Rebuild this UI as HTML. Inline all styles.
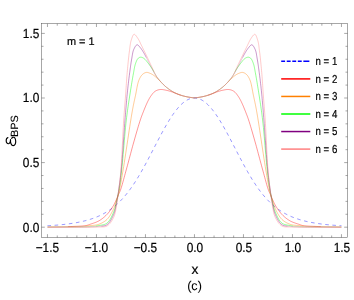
<!DOCTYPE html>
<html><head><meta charset="utf-8"><title>chart</title>
<style>
html,body{margin:0;padding:0;background:#fff;}
svg{will-change:transform;}
svg text{text-rendering:geometricPrecision;}
body{width:354px;height:300px;overflow:hidden;position:relative;font-family:"Liberation Sans",sans-serif;}
</style></head><body>
<svg width="354" height="300" viewBox="0 0 354 300" style="position:absolute;left:0;top:0">
<rect width="354" height="300" fill="#ffffff"/>
<path d="M47.46,225.76 L48.44,225.71 L49.42,225.65 L50.40,225.58 L51.38,225.52 L52.36,225.45 L53.34,225.38 L54.32,225.31 L55.30,225.24 L56.28,225.16 L57.26,225.08 L58.24,224.99 L59.22,224.91 L60.20,224.81 L61.18,224.72 L62.16,224.62 L63.14,224.52 L64.12,224.41 L65.10,224.30 L66.08,224.19 L67.06,224.07 L68.04,223.94 L69.02,223.81 L70.00,223.68 L70.98,223.54 L71.96,223.39 L72.94,223.24 L73.92,223.08 L74.90,222.92 L75.88,222.75 L76.86,222.57 L77.84,222.39 L78.82,222.19 L79.80,221.99 L80.78,221.79 L81.76,221.57 L82.74,221.35 L83.72,221.11 L84.70,220.87 L85.68,220.62 L86.66,220.35 L87.64,220.08 L88.62,219.80 L89.60,219.50 L90.58,219.19 L91.56,218.87 L92.54,218.54 L93.52,218.19 L94.50,217.83 L95.48,217.46 L96.46,217.07 L97.44,216.66 L98.42,216.24 L99.40,215.80 L100.38,215.34 L101.36,214.86 L102.34,214.37 L103.32,213.85 L104.30,213.32 L105.28,212.76 L106.26,212.18 L107.24,211.58 L108.22,210.96 L109.20,210.31 L110.18,209.63 L111.16,208.93 L112.14,208.21 L113.12,207.45 L114.10,206.67 L115.08,205.86 L116.06,205.02 L117.04,204.14 L118.02,203.24 L119.00,202.31 L119.98,201.34 L120.96,200.34 L121.94,199.30 L122.92,198.24 L123.90,197.13 L124.88,195.99 L125.86,194.82 L126.84,193.61 L127.82,192.37 L128.80,191.08 L129.78,189.77 L130.76,188.41 L131.74,187.03 L132.72,185.60 L133.70,184.15 L134.68,182.65 L135.66,181.13 L136.64,179.57 L137.62,177.98 L138.60,176.36 L139.58,174.71 L140.56,173.03 L141.54,171.32 L142.52,169.59 L143.50,167.83 L144.48,166.05 L145.46,164.25 L146.44,162.43 L147.42,160.60 L148.40,158.75 L149.38,156.88 L150.36,155.01 L151.34,153.13 L152.32,151.24 L153.30,149.34 L154.28,147.45 L155.26,145.56 L156.24,143.67 L157.22,141.79 L158.20,139.91 L159.18,138.05 L160.16,136.20 L161.14,134.37 L162.12,132.56 L163.10,130.76 L164.08,129.00 L165.06,127.26 L166.04,125.55 L167.02,123.87 L168.00,122.22 L168.98,120.61 L169.96,119.04 L170.94,117.52 L171.92,116.03 L172.90,114.59 L173.88,113.20 L174.86,111.86 L175.84,110.57 L176.82,109.34 L177.80,108.16 L178.78,107.04 L179.76,105.97 L180.74,104.97 L181.72,104.03 L182.70,103.16 L183.68,102.34 L184.66,101.60 L185.64,100.92 L186.62,100.31 L187.60,99.78 L188.58,99.31 L189.56,98.91 L190.54,98.58 L191.52,98.33 L192.50,98.15 L193.48,98.04 L194.46,98.00 L195.44,98.04 L196.42,98.15 L197.40,98.33 L198.38,98.58 L199.36,98.91 L200.34,99.31 L201.32,99.78 L202.30,100.31 L203.28,100.92 L204.26,101.60 L205.24,102.34 L206.22,103.16 L207.20,104.03 L208.18,104.97 L209.16,105.97 L210.14,107.04 L211.12,108.16 L212.10,109.34 L213.08,110.57 L214.06,111.86 L215.04,113.20 L216.02,114.59 L217.00,116.03 L217.98,117.52 L218.96,119.04 L219.94,120.61 L220.92,122.22 L221.90,123.87 L222.88,125.55 L223.86,127.26 L224.84,129.00 L225.82,130.76 L226.80,132.56 L227.78,134.37 L228.76,136.20 L229.74,138.05 L230.72,139.91 L231.70,141.79 L232.68,143.67 L233.66,145.56 L234.64,147.45 L235.62,149.34 L236.60,151.24 L237.58,153.13 L238.56,155.01 L239.54,156.88 L240.52,158.75 L241.50,160.60 L242.48,162.43 L243.46,164.25 L244.44,166.05 L245.42,167.83 L246.40,169.59 L247.38,171.32 L248.36,173.03 L249.34,174.71 L250.32,176.36 L251.30,177.98 L252.28,179.57 L253.26,181.13 L254.24,182.65 L255.22,184.15 L256.20,185.60 L257.18,187.03 L258.16,188.41 L259.14,189.77 L260.12,191.08 L261.10,192.37 L262.08,193.61 L263.06,194.82 L264.04,195.99 L265.02,197.13 L266.00,198.24 L266.98,199.30 L267.96,200.34 L268.94,201.34 L269.92,202.31 L270.90,203.24 L271.88,204.14 L272.86,205.02 L273.84,205.86 L274.82,206.67 L275.80,207.45 L276.78,208.21 L277.76,208.93 L278.74,209.63 L279.72,210.31 L280.70,210.96 L281.68,211.58 L282.66,212.18 L283.64,212.76 L284.62,213.32 L285.60,213.85 L286.58,214.37 L287.56,214.86 L288.54,215.34 L289.52,215.80 L290.50,216.24 L291.48,216.66 L292.46,217.07 L293.44,217.46 L294.42,217.83 L295.40,218.19 L296.38,218.54 L297.36,218.87 L298.34,219.19 L299.32,219.50 L300.30,219.80 L301.28,220.08 L302.26,220.35 L303.24,220.62 L304.22,220.87 L305.20,221.11 L306.18,221.35 L307.16,221.57 L308.14,221.79 L309.12,221.99 L310.10,222.19 L311.08,222.39 L312.06,222.57 L313.04,222.75 L314.02,222.92 L315.00,223.08 L315.98,223.24 L316.96,223.39 L317.94,223.54 L318.92,223.68 L319.90,223.81 L320.88,223.94 L321.86,224.07 L322.84,224.19 L323.82,224.30 L324.80,224.41 L325.78,224.52 L326.76,224.62 L327.74,224.72 L328.72,224.81 L329.70,224.91 L330.68,224.99 L331.66,225.08 L332.64,225.16 L333.62,225.24 L334.60,225.31 L335.58,225.38 L336.56,225.45 L337.54,225.52 L338.52,225.58 L339.50,225.65 L340.48,225.71 L341.46,225.76" fill="none" stroke="#0000ff" stroke-width="0.42" stroke-dasharray="3.58,3.58"/>
<path d="M68.03,226.60 L70.10,226.54 L72.06,226.47 L73.90,226.40 L75.08,226.35 L76.23,226.30 L77.35,226.26 L78.44,226.22 L79.51,226.17 L80.53,226.12 L81.52,226.07 L82.47,226.00 L83.37,225.92 L84.23,225.83 L85.04,225.73 L85.80,225.60 L86.23,225.52 L86.61,225.43 L86.98,225.34 L87.31,225.24 L87.64,225.15 L87.95,225.04 L88.26,224.93 L88.57,224.82 L88.90,224.70 L89.24,224.57 L89.60,224.44 L90.00,224.30 L90.64,224.08 L91.32,223.86 L92.05,223.62 L92.80,223.37 L93.58,223.11 L94.37,222.83 L95.17,222.54 L95.97,222.23 L96.76,221.91 L97.53,221.56 L98.28,221.19 L99.00,220.80 L99.72,220.37 L100.43,219.92 L101.13,219.45 L101.82,218.96 L102.51,218.45 L103.18,217.92 L103.85,217.38 L104.50,216.81 L105.14,216.23 L105.78,215.63 L106.39,215.02 L107.00,214.40 L107.63,213.72 L108.25,213.01 L108.85,212.28 L109.44,211.53 L110.02,210.76 L110.59,209.97 L111.14,209.18 L111.68,208.37 L112.21,207.55 L112.72,206.74 L113.22,205.92 L113.70,205.10 L114.16,204.28 L114.60,203.43 L115.03,202.56 L115.44,201.67 L115.84,200.78 L116.23,199.89 L116.61,199.01 L116.97,198.14 L117.32,197.30 L117.66,196.49 L117.98,195.72 L118.30,195.00 L118.51,194.53 L118.71,194.11 L118.90,193.71 L119.08,193.34 L119.25,192.97 L119.42,192.61 L119.59,192.25 L119.76,191.87 L119.94,191.46 L120.11,191.02 L120.30,190.54 L120.50,190.00 L120.91,188.82 L121.33,187.49 L121.78,186.03 L122.24,184.46 L122.71,182.80 L123.19,181.06 L123.68,179.26 L124.18,177.42 L124.68,175.56 L125.19,173.69 L125.70,171.83 L126.20,170.00 L126.80,167.82 L127.42,165.57 L128.04,163.25 L128.68,160.89 L129.32,158.49 L129.96,156.08 L130.61,153.66 L131.25,151.25 L131.90,148.87 L132.54,146.52 L133.17,144.23 L133.80,142.00 L134.36,140.03 L134.92,138.04 L135.49,136.04 L136.07,134.04 L136.64,132.05 L137.21,130.11 L137.76,128.21 L138.31,126.38 L138.84,124.62 L139.35,122.97 L139.84,121.42 L140.30,120.00 L140.56,119.23 L140.80,118.51 L141.04,117.84 L141.26,117.20 L141.48,116.60 L141.70,116.01 L141.92,115.43 L142.14,114.86 L142.36,114.28 L142.60,113.68 L142.84,113.06 L143.10,112.40 L143.42,111.59 L143.76,110.74 L144.10,109.87 L144.46,108.99 L144.83,108.09 L145.20,107.19 L145.57,106.29 L145.94,105.41 L146.32,104.56 L146.69,103.73 L147.05,102.94 L147.40,102.20 L147.66,101.67 L147.92,101.15 L148.17,100.65 L148.42,100.16 L148.66,99.69 L148.91,99.23 L149.16,98.78 L149.42,98.34 L149.67,97.90 L149.94,97.46 L150.22,97.03 L150.50,96.60 L150.78,96.18 L151.07,95.76 L151.36,95.34 L151.66,94.92 L151.97,94.50 L152.28,94.10 L152.59,93.70 L152.91,93.32 L153.23,92.96 L153.55,92.61 L153.87,92.29 L154.20,92.00 L154.46,91.78 L154.73,91.58 L155.00,91.38 L155.27,91.20 L155.54,91.03 L155.81,90.87 L156.09,90.72 L156.36,90.58 L156.64,90.45 L156.93,90.32 L157.21,90.21 L157.50,90.10 L157.78,90.00 L158.06,89.92 L158.35,89.84 L158.63,89.77 L158.92,89.71 L159.22,89.66 L159.51,89.62 L159.80,89.58 L160.10,89.55 L160.40,89.53 L160.70,89.51 L161.00,89.50 L161.32,89.50 L161.64,89.51 L161.97,89.53 L162.29,89.56 L162.62,89.59 L162.95,89.64 L163.28,89.69 L163.61,89.74 L163.95,89.80 L164.30,89.87 L164.65,89.93 L165.00,90.00 L165.43,90.08 L165.86,90.17 L166.29,90.27 L166.73,90.36 L167.18,90.47 L167.63,90.58 L168.09,90.70 L168.56,90.83 L169.03,90.96 L169.51,91.10 L170.00,91.25 L170.50,91.40 L171.15,91.61 L171.83,91.85 L172.52,92.11 L173.23,92.39 L173.96,92.67 L174.69,92.96 L175.42,93.26 L176.16,93.55 L176.89,93.83 L177.61,94.11 L178.31,94.36 L179.00,94.60 L179.60,94.80 L180.19,94.99 L180.77,95.18 M208.15,95.18 L208.73,94.99 L209.32,94.80 L209.92,94.60 L210.61,94.36 L211.31,94.11 L212.03,93.83 L212.76,93.55 L213.50,93.26 L214.23,92.96 L214.96,92.67 L215.69,92.39 L216.40,92.11 L217.09,91.85 L217.77,91.61 L218.42,91.40 L218.92,91.25 L219.41,91.10 L219.89,90.96 L220.36,90.83 L220.83,90.70 L221.29,90.58 L221.74,90.47 L222.19,90.36 L222.63,90.27 L223.06,90.17 L223.49,90.08 L223.92,90.00 L224.27,89.93 L224.62,89.87 L224.97,89.80 L225.31,89.74 L225.64,89.69 L225.97,89.64 L226.30,89.59 L226.63,89.56 L226.95,89.53 L227.28,89.51 L227.60,89.50 L227.92,89.50 L228.22,89.51 L228.52,89.53 L228.82,89.55 L229.12,89.58 L229.41,89.62 L229.70,89.66 L230.00,89.71 L230.29,89.77 L230.57,89.84 L230.86,89.92 L231.14,90.00 L231.42,90.10 L231.71,90.21 L231.99,90.32 L232.28,90.45 L232.56,90.58 L232.83,90.72 L233.11,90.87 L233.38,91.03 L233.65,91.20 L233.92,91.38 L234.19,91.58 L234.46,91.78 L234.72,92.00 L235.05,92.29 L235.37,92.61 L235.69,92.96 L236.01,93.32 L236.33,93.70 L236.64,94.10 L236.95,94.50 L237.26,94.92 L237.56,95.34 L237.85,95.76 L238.14,96.18 L238.42,96.60 L238.70,97.03 L238.98,97.46 L239.25,97.90 L239.50,98.34 L239.76,98.78 L240.01,99.23 L240.26,99.69 L240.50,100.16 L240.75,100.65 L241.00,101.15 L241.26,101.67 L241.52,102.20 L241.87,102.94 L242.23,103.73 L242.60,104.56 L242.98,105.41 L243.35,106.29 L243.72,107.19 L244.09,108.09 L244.46,108.99 L244.82,109.87 L245.16,110.74 L245.50,111.59 L245.82,112.40 L246.08,113.06 L246.32,113.68 L246.56,114.28 L246.78,114.86 L247.00,115.43 L247.22,116.01 L247.44,116.60 L247.66,117.20 L247.88,117.84 L248.12,118.51 L248.36,119.23 L248.62,120.00 L249.08,121.42 L249.57,122.97 L250.08,124.62 L250.61,126.38 L251.16,128.21 L251.71,130.11 L252.28,132.05 L252.85,134.04 L253.43,136.04 L254.00,138.04 L254.56,140.03 L255.12,142.00 L255.75,144.23 L256.38,146.52 L257.02,148.87 L257.67,151.25 L258.31,153.66 L258.96,156.08 L259.60,158.49 L260.24,160.89 L260.88,163.25 L261.50,165.57 L262.12,167.82 L262.72,170.00 L263.22,171.83 L263.73,173.69 L264.24,175.56 L264.74,177.42 L265.24,179.26 L265.73,181.06 L266.21,182.80 L266.68,184.46 L267.14,186.03 L267.59,187.49 L268.01,188.82 L268.42,190.00 L268.62,190.54 L268.81,191.02 L268.98,191.46 L269.16,191.87 L269.33,192.25 L269.50,192.61 L269.67,192.97 L269.84,193.34 L270.02,193.71 L270.21,194.11 L270.41,194.53 L270.62,195.00 L270.94,195.72 L271.26,196.49 L271.60,197.30 L271.95,198.14 L272.31,199.01 L272.69,199.89 L273.08,200.78 L273.48,201.67 L273.89,202.56 L274.32,203.43 L274.76,204.28 L275.22,205.10 L275.70,205.92 L276.20,206.74 L276.71,207.55 L277.24,208.37 L277.78,209.18 L278.33,209.97 L278.90,210.76 L279.48,211.53 L280.07,212.28 L280.67,213.01 L281.29,213.72 L281.92,214.40 L282.53,215.02 L283.14,215.63 L283.78,216.23 L284.42,216.81 L285.07,217.38 L285.74,217.92 L286.41,218.45 L287.10,218.96 L287.79,219.45 L288.49,219.92 L289.20,220.37 L289.92,220.80 L290.64,221.19 L291.39,221.56 L292.16,221.91 L292.95,222.23 L293.75,222.54 L294.55,222.83 L295.34,223.11 L296.12,223.37 L296.87,223.62 L297.60,223.86 L298.28,224.08 L298.92,224.30 L299.32,224.44 L299.68,224.57 L300.02,224.70 L300.35,224.82 L300.66,224.93 L300.97,225.04 L301.28,225.15 L301.61,225.24 L301.94,225.34 L302.31,225.43 L302.69,225.52 L303.12,225.60 L303.88,225.73 L304.69,225.83 L305.55,225.92 L306.45,226.00 L307.40,226.07 L308.39,226.12 L309.41,226.17 L310.48,226.22 L311.57,226.26 L312.69,226.30 L313.84,226.35 L315.02,226.40 L316.86,226.47 L318.82,226.54 L320.89,226.60" fill="none" stroke="#ff0000" stroke-width="0.42" stroke-linejoin="round"/>
<path d="M47.50,227.00 L49.73,226.95 L52.02,226.91 L54.34,226.87 L56.69,226.83 L59.03,226.79 L61.35,226.74 L63.64,226.70 L65.87,226.65 L68.03,226.60 M180.77,95.18 L181.35,95.36 L181.92,95.53 L182.49,95.70 L183.06,95.86 L183.63,96.02 L184.21,96.17 L184.80,96.32 L185.39,96.46 L186.00,96.60 L186.67,96.74 L187.36,96.87 L188.05,96.99 L188.75,97.10 L189.46,97.21 L190.17,97.31 L190.88,97.40 L191.60,97.50 L192.32,97.60 L193.03,97.69 L193.74,97.79 L194.45,97.90 L195.18,97.79 L195.89,97.69 L196.60,97.60 L197.32,97.50 L198.04,97.40 L198.75,97.31 L199.46,97.21 L200.17,97.10 L200.87,96.99 L201.56,96.87 L202.25,96.74 L202.92,96.60 L203.53,96.46 L204.12,96.32 L204.71,96.17 L205.29,96.02 L205.86,95.86 L206.43,95.70 L207.00,95.53 L207.57,95.36 L208.15,95.18 M320.89,226.60 L323.05,226.65 L325.28,226.70 L327.57,226.74 L329.89,226.79 L332.23,226.83 L334.58,226.87 L336.90,226.91 L339.19,226.95 L341.42,227.00" fill="none" stroke="#ff0000" stroke-width="0.2" stroke-linejoin="round"/>
<path d="M85.41,226.06 L86.18,225.99 L86.94,225.92 L87.69,225.85 L88.45,225.77 L89.21,225.69 L90.00,225.60 L90.74,225.53 L91.46,225.46 L92.19,225.41 L92.91,225.36 L93.62,225.30 L94.33,225.24 L95.03,225.16 L95.73,225.06 L96.43,224.95 L97.12,224.80 L97.81,224.62 L98.50,224.40 L99.24,224.13 L99.98,223.84 L100.73,223.52 L101.47,223.17 L102.21,222.80 L102.94,222.40 L103.66,221.98 L104.37,221.52 L105.06,221.04 L105.73,220.52 L106.38,219.98 L107.00,219.40 L107.68,218.69 L108.33,217.92 L108.97,217.09 L109.58,216.21 L110.17,215.30 L110.74,214.35 L111.29,213.39 L111.81,212.41 L112.32,211.44 L112.80,210.47 L113.26,209.52 L113.70,208.60 L114.08,207.77 L114.43,206.93 L114.75,206.09 L115.06,205.25 L115.35,204.41 L115.62,203.57 L115.88,202.73 L116.13,201.89 L116.38,201.06 L116.62,200.23 L116.86,199.41 L117.10,198.60 L117.32,197.88 L117.53,197.18 L117.73,196.50 L117.92,195.83 L118.11,195.16 L118.29,194.50 L118.47,193.82 L118.65,193.12 L118.84,192.40 L119.02,191.64 L119.21,190.84 L119.40,190.00 L119.70,188.66 L119.99,187.26 L120.28,185.81 L120.58,184.29 L120.88,182.72 L121.18,181.09 L121.48,179.40 L121.79,177.65 L122.10,175.84 L122.43,173.96 L122.76,172.01 L123.10,170.00 L123.68,166.52 L124.30,162.59 L124.97,158.31 L125.66,153.78 L126.37,149.10 L127.08,144.35 L127.79,139.64 L128.48,135.06 L129.13,130.71 L129.75,126.68 L130.31,123.08 L130.80,120.00 L131.02,118.65 L131.23,117.39 L131.42,116.22 L131.60,115.13 L131.78,114.09 L131.95,113.10 L132.11,112.13 L132.28,111.19 L132.45,110.25 L132.62,109.29 L132.81,108.32 L133.00,107.30 L133.19,106.30 L133.39,105.31 L133.59,104.33 L133.79,103.35 L133.99,102.38 L134.20,101.41 L134.41,100.44 L134.62,99.46 L134.83,98.47 L135.05,97.46 L135.27,96.44 L135.50,95.40 L135.75,94.17 L136.00,92.88 L136.25,91.55 L136.50,90.18 L136.75,88.80 L137.01,87.43 L137.28,86.08 L137.56,84.76 L137.86,83.50 L138.18,82.31 L138.53,81.20 L138.90,80.20 L139.16,79.59 L139.42,78.99 L139.69,78.42 L139.97,77.88 L140.25,77.36 L140.54,76.86 L140.84,76.38 L141.15,75.93 L141.47,75.51 L141.80,75.11 L142.14,74.74 L142.50,74.40 L142.80,74.14 L143.11,73.89 L143.43,73.66 L143.77,73.44 L144.10,73.24 L144.45,73.05 L144.79,72.89 L145.14,72.74 L145.49,72.62 L145.83,72.52 L146.17,72.45 L146.50,72.40 L146.80,72.38 L147.09,72.39 L147.38,72.42 L147.68,72.48 L147.97,72.55 L148.26,72.63 L148.56,72.73 L148.85,72.84 L149.14,72.95 L149.42,73.07 L149.71,73.18 L150.00,73.30 L150.30,73.43 L150.60,73.56 L150.90,73.70 L151.20,73.84 L151.49,73.99 L151.79,74.16 L152.09,74.32 L152.38,74.50 L152.68,74.69 L152.98,74.88 L153.29,75.09 L153.60,75.30 L154.00,75.59 L154.40,75.89 L154.80,76.21 L155.21,76.54 L155.62,76.89 L156.03,77.25 L156.45,77.62 L156.87,78.00 L157.30,78.39 L157.73,78.79 L158.16,79.19 L158.60,79.60 L159.13,80.11 L159.67,80.64 L160.21,81.20 L160.75,81.78 M228.17,81.78 L228.71,81.20 L229.25,80.64 L229.79,80.11 L230.32,79.60 L230.76,79.19 L231.19,78.79 L231.62,78.39 L232.05,78.00 L232.47,77.62 L232.89,77.25 L233.30,76.89 L233.71,76.54 L234.12,76.21 L234.52,75.89 L234.92,75.59 L235.32,75.30 L235.63,75.09 L235.94,74.88 L236.24,74.69 L236.54,74.50 L236.83,74.32 L237.13,74.16 L237.43,73.99 L237.72,73.84 L238.02,73.70 L238.32,73.56 L238.62,73.43 L238.92,73.30 L239.21,73.18 L239.50,73.07 L239.78,72.95 L240.07,72.84 L240.36,72.73 L240.66,72.63 L240.95,72.55 L241.24,72.48 L241.54,72.42 L241.83,72.39 L242.12,72.38 L242.42,72.40 L242.75,72.45 L243.09,72.52 L243.43,72.62 L243.78,72.74 L244.13,72.89 L244.47,73.05 L244.82,73.24 L245.15,73.44 L245.49,73.66 L245.81,73.89 L246.12,74.14 L246.42,74.40 L246.78,74.74 L247.12,75.11 L247.45,75.51 L247.77,75.93 L248.08,76.38 L248.38,76.86 L248.67,77.36 L248.95,77.88 L249.23,78.42 L249.50,78.99 L249.76,79.59 L250.02,80.20 L250.39,81.20 L250.74,82.31 L251.06,83.50 L251.36,84.76 L251.64,86.08 L251.91,87.43 L252.17,88.80 L252.42,90.18 L252.67,91.55 L252.92,92.88 L253.17,94.17 L253.42,95.40 L253.65,96.44 L253.87,97.46 L254.09,98.47 L254.30,99.46 L254.51,100.44 L254.72,101.41 L254.93,102.38 L255.13,103.35 L255.33,104.33 L255.53,105.31 L255.73,106.30 L255.92,107.30 L256.11,108.32 L256.30,109.29 L256.47,110.25 L256.64,111.19 L256.81,112.13 L256.97,113.10 L257.14,114.09 L257.32,115.13 L257.50,116.22 L257.69,117.39 L257.90,118.65 L258.12,120.00 L258.61,123.08 L259.17,126.68 L259.79,130.71 L260.44,135.06 L261.13,139.64 L261.84,144.35 L262.55,149.10 L263.26,153.78 L263.95,158.31 L264.62,162.59 L265.24,166.52 L265.82,170.00 L266.16,172.01 L266.49,173.96 L266.82,175.84 L267.13,177.65 L267.44,179.40 L267.74,181.09 L268.04,182.72 L268.34,184.29 L268.64,185.81 L268.93,187.26 L269.22,188.66 L269.52,190.00 L269.71,190.84 L269.90,191.64 L270.08,192.40 L270.27,193.12 L270.45,193.82 L270.63,194.50 L270.81,195.16 L271.00,195.83 L271.19,196.50 L271.39,197.18 L271.60,197.88 L271.82,198.60 L272.06,199.41 L272.30,200.23 L272.54,201.06 L272.79,201.89 L273.04,202.73 L273.30,203.57 L273.57,204.41 L273.86,205.25 L274.17,206.09 L274.49,206.93 L274.84,207.77 L275.22,208.60 L275.66,209.52 L276.12,210.47 L276.60,211.44 L277.11,212.41 L277.63,213.39 L278.18,214.35 L278.75,215.30 L279.34,216.21 L279.95,217.09 L280.59,217.92 L281.24,218.69 L281.92,219.40 L282.54,219.98 L283.19,220.52 L283.86,221.04 L284.55,221.52 L285.26,221.98 L285.98,222.40 L286.71,222.80 L287.45,223.17 L288.19,223.52 L288.94,223.84 L289.68,224.13 L290.42,224.40 L291.11,224.62 L291.80,224.80 L292.49,224.95 L293.19,225.06 L293.89,225.16 L294.59,225.24 L295.30,225.30 L296.01,225.36 L296.73,225.41 L297.46,225.46 L298.18,225.53 L298.92,225.60 L299.71,225.69 L300.47,225.77 L301.23,225.85 L301.98,225.92 L302.74,225.99 L303.51,226.06" fill="none" stroke="#ff8000" stroke-width="0.42" stroke-linejoin="round"/>
<path d="M47.50,226.80 L50.27,226.77 L53.13,226.75 L56.06,226.73 L59.02,226.72 L61.99,226.70 L64.92,226.68 L67.78,226.66 L70.55,226.63 L73.19,226.59 L75.66,226.54 L77.94,226.48 L80.00,226.40 L81.04,226.35 L82.01,226.30 L82.92,226.24 L83.79,226.18 L84.62,226.12 L85.41,226.06 M160.75,81.78 L161.30,82.36 L161.86,82.96 L162.43,83.56 L163.00,84.15 L163.58,84.74 L164.18,85.31 L164.78,85.87 L165.40,86.40 L166.06,86.94 L166.73,87.48 L167.41,88.01 L168.10,88.54 L168.81,89.06 L169.52,89.57 L170.24,90.07 L170.97,90.55 L171.70,91.02 L172.43,91.47 L173.17,91.89 L173.90,92.30 L174.59,92.66 L175.29,93.01 L175.99,93.33 L176.69,93.65 L177.40,93.94 L178.11,94.23 L178.82,94.50 L179.54,94.76 L180.25,95.01 L180.97,95.25 L181.68,95.48 L182.40,95.70 L183.11,95.91 L183.83,96.10 L184.57,96.29 L185.31,96.46 L186.06,96.63 L186.80,96.78 L187.53,96.93 L188.25,97.06 L188.94,97.19 L189.60,97.30 L190.22,97.40 L190.80,97.50 L191.16,97.55 L191.49,97.60 L191.81,97.64 L192.12,97.68 L192.42,97.71 L192.72,97.74 L193.00,97.76 L193.29,97.79 L193.57,97.81 L193.86,97.84 L194.15,97.87 L194.45,97.90 L194.77,97.87 L195.06,97.84 L195.35,97.81 L195.63,97.79 L195.92,97.76 L196.20,97.74 L196.50,97.71 L196.80,97.68 L197.11,97.64 L197.43,97.60 L197.76,97.55 L198.12,97.50 L198.70,97.40 L199.32,97.30 L199.98,97.19 L200.67,97.06 L201.39,96.93 L202.12,96.78 L202.86,96.63 L203.61,96.46 L204.35,96.29 L205.09,96.10 L205.81,95.91 L206.52,95.70 L207.24,95.48 L207.95,95.25 L208.67,95.01 L209.38,94.76 L210.10,94.50 L210.81,94.23 L211.52,93.94 L212.23,93.65 L212.93,93.33 L213.63,93.01 L214.33,92.66 L215.02,92.30 L215.75,91.89 L216.49,91.47 L217.22,91.02 L217.95,90.55 L218.68,90.07 L219.40,89.57 L220.11,89.06 L220.82,88.54 L221.51,88.01 L222.19,87.48 L222.86,86.94 L223.52,86.40 L224.14,85.87 L224.74,85.31 L225.34,84.74 L225.92,84.15 L226.49,83.56 L227.06,82.96 L227.62,82.36 L228.17,81.78 M303.51,226.06 L304.30,226.12 L305.13,226.18 L306.00,226.24 L306.91,226.30 L307.88,226.35 L308.92,226.40 L310.98,226.48 L313.26,226.54 L315.73,226.59 L318.37,226.63 L321.14,226.66 L324.00,226.68 L326.93,226.70 L329.90,226.72 L332.86,226.73 L335.79,226.75 L338.65,226.77 L341.42,226.80" fill="none" stroke="#ff8000" stroke-width="0.2" stroke-linejoin="round"/>
<path d="M95.92,226.06 L96.54,225.96 L97.17,225.86 L97.82,225.74 L98.50,225.60 L99.22,225.46 L99.96,225.34 L100.70,225.22 L101.44,225.10 L102.19,224.97 L102.93,224.82 L103.66,224.65 L104.37,224.44 L105.07,224.19 L105.74,223.89 L106.39,223.53 L107.00,223.10 L107.71,222.48 L108.39,221.76 L109.04,220.95 L109.66,220.06 L110.25,219.11 L110.82,218.11 L111.36,217.07 L111.87,216.02 L112.37,214.96 L112.83,213.91 L113.28,212.89 L113.70,211.90 L114.07,210.98 L114.41,210.05 L114.72,209.12 L115.00,208.17 L115.26,207.23 L115.50,206.27 L115.73,205.32 L115.95,204.37 L116.16,203.42 L116.37,202.48 L116.58,201.53 L116.80,200.60 L117.01,199.72 L117.21,198.86 L117.41,198.01 L117.60,197.17 L117.78,196.34 L117.96,195.50 L118.14,194.65 L118.31,193.78 L118.48,192.88 L118.65,191.96 L118.83,191.00 L119.00,190.00 L119.24,188.59 L119.47,187.14 L119.70,185.66 L119.92,184.14 L120.14,182.58 L120.36,180.97 L120.58,179.30 L120.80,177.58 L121.02,175.79 L121.24,173.93 L121.47,172.00 L121.70,170.00 L122.07,166.57 L122.44,162.79 L122.81,158.71 L123.18,154.40 L123.56,149.94 L123.94,145.39 L124.32,140.82 L124.71,136.30 L125.10,131.88 L125.49,127.65 L125.89,123.67 L126.30,120.00 L126.60,117.53 L126.90,115.14 L127.20,112.84 L127.50,110.61 L127.81,108.43 L128.11,106.31 L128.42,104.22 L128.74,102.16 L129.05,100.12 L129.36,98.09 L129.68,96.05 L130.00,94.00 L130.30,92.10 L130.60,90.18 L130.91,88.25 L131.22,86.31 L131.53,84.39 L131.84,82.50 L132.15,80.65 L132.46,78.86 L132.76,77.13 L133.05,75.49 L133.33,73.94 L133.60,72.50 L133.76,71.65 L133.90,70.83 L134.04,70.05 L134.17,69.30 L134.30,68.57 L134.43,67.87 L134.57,67.19 L134.71,66.53 L134.86,65.89 L135.02,65.25 L135.20,64.62 L135.40,64.00 L135.58,63.48 L135.76,62.95 L135.95,62.42 L136.15,61.90 L136.35,61.39 L136.56,60.89 L136.78,60.41 L137.00,59.96 L137.24,59.54 L137.48,59.15 L137.74,58.80 L138.00,58.50 L138.19,58.32 L138.38,58.14 L138.57,57.98 L138.77,57.84 L138.98,57.71 L139.18,57.59 L139.39,57.48 L139.61,57.40 L139.83,57.32 L140.05,57.27 L140.27,57.22 L140.50,57.20 L140.76,57.19 L141.03,57.21 L141.31,57.25 L141.60,57.31 L141.88,57.40 L142.17,57.50 L142.47,57.61 L142.76,57.74 L143.05,57.89 L143.34,58.05 L143.62,58.22 L143.90,58.40 L144.26,58.66 L144.62,58.97 L144.98,59.31 L145.33,59.67 L145.68,60.07 L146.03,60.48 L146.38,60.90 L146.73,61.34 L147.07,61.78 L147.42,62.23 L147.76,62.67 L148.10,63.10 L148.47,63.56 L148.83,64.03 L149.20,64.51 L149.56,64.99 L149.92,65.48 L150.28,65.97 L150.64,66.48 L150.99,66.99 L151.35,67.50 L151.70,68.03 L152.05,68.56 L152.40,69.10 L152.78,69.71 L153.14,70.34 L153.49,70.98 L153.83,71.63 M235.09,71.63 L235.43,70.98 L235.78,70.34 L236.14,69.71 L236.52,69.10 L236.87,68.56 L237.22,68.03 L237.57,67.50 L237.93,66.99 L238.28,66.48 L238.64,65.97 L239.00,65.48 L239.36,64.99 L239.72,64.51 L240.09,64.03 L240.45,63.56 L240.82,63.10 L241.16,62.67 L241.50,62.23 L241.85,61.78 L242.19,61.34 L242.54,60.90 L242.89,60.48 L243.24,60.07 L243.59,59.67 L243.94,59.31 L244.30,58.97 L244.66,58.66 L245.02,58.40 L245.30,58.22 L245.58,58.05 L245.87,57.89 L246.16,57.74 L246.45,57.61 L246.75,57.50 L247.04,57.40 L247.32,57.31 L247.61,57.25 L247.89,57.21 L248.16,57.19 L248.42,57.20 L248.65,57.22 L248.87,57.27 L249.09,57.32 L249.31,57.40 L249.53,57.48 L249.74,57.59 L249.94,57.71 L250.15,57.84 L250.35,57.98 L250.54,58.14 L250.73,58.32 L250.92,58.50 L251.18,58.80 L251.44,59.15 L251.68,59.54 L251.92,59.96 L252.14,60.41 L252.36,60.89 L252.57,61.39 L252.77,61.90 L252.97,62.42 L253.16,62.95 L253.34,63.48 L253.52,64.00 L253.72,64.62 L253.90,65.25 L254.06,65.89 L254.21,66.53 L254.35,67.19 L254.49,67.87 L254.62,68.57 L254.75,69.30 L254.88,70.05 L255.02,70.83 L255.16,71.65 L255.32,72.50 L255.59,73.94 L255.87,75.49 L256.16,77.13 L256.46,78.86 L256.77,80.65 L257.08,82.50 L257.39,84.39 L257.70,86.31 L258.01,88.25 L258.32,90.18 L258.62,92.10 L258.92,94.00 L259.24,96.05 L259.56,98.09 L259.87,100.12 L260.18,102.16 L260.50,104.22 L260.81,106.31 L261.11,108.43 L261.42,110.61 L261.72,112.84 L262.02,115.14 L262.32,117.53 L262.62,120.00 L263.03,123.67 L263.43,127.65 L263.82,131.88 L264.21,136.30 L264.60,140.82 L264.98,145.39 L265.36,149.94 L265.74,154.40 L266.11,158.71 L266.48,162.79 L266.85,166.57 L267.22,170.00 L267.45,172.00 L267.68,173.93 L267.90,175.79 L268.12,177.58 L268.34,179.30 L268.56,180.97 L268.78,182.58 L269.00,184.14 L269.22,185.66 L269.45,187.14 L269.68,188.59 L269.92,190.00 L270.09,191.00 L270.27,191.96 L270.44,192.88 L270.61,193.78 L270.78,194.65 L270.96,195.50 L271.14,196.34 L271.32,197.17 L271.51,198.01 L271.71,198.86 L271.91,199.72 L272.12,200.60 L272.34,201.53 L272.55,202.48 L272.76,203.42 L272.97,204.37 L273.19,205.32 L273.42,206.27 L273.66,207.23 L273.92,208.17 L274.20,209.12 L274.51,210.05 L274.85,210.98 L275.22,211.90 L275.64,212.89 L276.09,213.91 L276.55,214.96 L277.05,216.02 L277.56,217.07 L278.10,218.11 L278.67,219.11 L279.26,220.06 L279.88,220.95 L280.53,221.76 L281.21,222.48 L281.92,223.10 L282.53,223.53 L283.18,223.89 L283.85,224.19 L284.55,224.44 L285.26,224.65 L285.99,224.82 L286.73,224.97 L287.48,225.10 L288.22,225.22 L288.96,225.34 L289.70,225.46 L290.42,225.60 L291.10,225.74 L291.75,225.86 L292.38,225.96 L293.00,226.06" fill="none" stroke="#00ff00" stroke-width="0.42" stroke-linejoin="round"/>
<path d="M47.50,227.10 L51.15,227.07 L54.96,227.04 L58.89,227.03 L62.87,227.02 L66.86,227.01 L70.78,227.00 L74.60,226.98 L78.24,226.94 L81.66,226.89 L84.80,226.82 L87.60,226.73 L90.00,226.60 L90.94,226.54 L91.80,226.48 L92.59,226.42 L93.32,226.36 L94.01,226.29 L94.67,226.22 L95.30,226.14 L95.92,226.06 M153.83,71.63 L154.17,72.30 L154.51,72.96 L154.86,73.64 L155.23,74.31 L155.61,74.99 L156.01,75.66 L156.44,76.34 L156.90,77.00 L157.48,77.79 L158.11,78.60 L158.76,79.42 L159.44,80.24 L160.15,81.06 L160.87,81.88 L161.62,82.69 L162.37,83.49 L163.13,84.26 L163.89,85.01 L164.65,85.72 L165.40,86.40 L166.08,86.99 L166.77,87.55 L167.46,88.10 L168.16,88.64 L168.86,89.15 L169.57,89.65 L170.28,90.13 L171.00,90.60 L171.72,91.05 L172.44,91.48 L173.17,91.90 L173.90,92.30 L174.59,92.66 L175.29,93.01 L175.99,93.33 L176.69,93.65 L177.40,93.94 L178.11,94.23 L178.82,94.50 L179.54,94.76 L180.25,95.01 L180.97,95.25 L181.68,95.48 L182.40,95.70 L183.11,95.91 L183.83,96.10 L184.57,96.29 L185.31,96.46 L186.06,96.63 L186.80,96.78 L187.53,96.93 L188.25,97.06 L188.94,97.19 L189.60,97.30 L190.22,97.40 L190.80,97.50 L191.16,97.55 L191.49,97.60 L191.81,97.64 L192.12,97.68 L192.42,97.71 L192.72,97.74 L193.00,97.76 L193.29,97.79 L193.57,97.81 L193.86,97.84 L194.15,97.87 L194.45,97.90 L194.77,97.87 L195.06,97.84 L195.35,97.81 L195.63,97.79 L195.92,97.76 L196.20,97.74 L196.50,97.71 L196.80,97.68 L197.11,97.64 L197.43,97.60 L197.76,97.55 L198.12,97.50 L198.70,97.40 L199.32,97.30 L199.98,97.19 L200.67,97.06 L201.39,96.93 L202.12,96.78 L202.86,96.63 L203.61,96.46 L204.35,96.29 L205.09,96.10 L205.81,95.91 L206.52,95.70 L207.24,95.48 L207.95,95.25 L208.67,95.01 L209.38,94.76 L210.10,94.50 L210.81,94.23 L211.52,93.94 L212.23,93.65 L212.93,93.33 L213.63,93.01 L214.33,92.66 L215.02,92.30 L215.75,91.90 L216.48,91.48 L217.20,91.05 L217.92,90.60 L218.64,90.13 L219.35,89.65 L220.06,89.15 L220.76,88.64 L221.46,88.10 L222.15,87.55 L222.84,86.99 L223.52,86.40 L224.27,85.72 L225.03,85.01 L225.79,84.26 L226.55,83.49 L227.30,82.69 L228.05,81.88 L228.77,81.06 L229.48,80.24 L230.16,79.42 L230.81,78.60 L231.44,77.79 L232.02,77.00 L232.48,76.34 L232.91,75.66 L233.31,74.99 L233.69,74.31 L234.06,73.64 L234.41,72.96 L234.75,72.30 L235.09,71.63 M293.00,226.06 L293.62,226.14 L294.25,226.22 L294.91,226.29 L295.60,226.36 L296.33,226.42 L297.12,226.48 L297.98,226.54 L298.92,226.60 L301.32,226.73 L304.12,226.82 L307.26,226.89 L310.68,226.94 L314.32,226.98 L318.14,227.00 L322.06,227.01 L326.05,227.02 L330.03,227.03 L333.96,227.04 L337.77,227.07 L341.42,227.10" fill="none" stroke="#00ff00" stroke-width="0.2" stroke-linejoin="round"/>
<path d="M101.44,226.16 L102.18,226.10 L102.92,226.02 L103.65,225.92 L104.36,225.78 L105.06,225.60 L105.74,225.36 L106.38,225.07 L107.00,224.70 L107.70,224.16 L108.38,223.52 L109.03,222.79 L109.65,221.99 L110.25,221.13 L110.82,220.21 L111.37,219.26 L111.89,218.28 L112.38,217.30 L112.85,216.31 L113.29,215.34 L113.70,214.40 L114.08,213.47 L114.41,212.53 L114.71,211.57 L114.98,210.60 L115.22,209.62 L115.44,208.63 L115.64,207.63 L115.83,206.63 L116.02,205.62 L116.21,204.61 L116.40,203.61 L116.60,202.60 L116.81,201.58 L117.00,200.56 L117.19,199.55 L117.37,198.55 L117.54,197.54 L117.71,196.52 L117.88,195.48 L118.04,194.44 L118.20,193.37 L118.37,192.28 L118.53,191.15 L118.70,190.00 L118.91,188.52 L119.13,187.04 L119.34,185.54 L119.55,184.01 L119.76,182.46 L119.96,180.86 L120.17,179.21 L120.38,177.51 L120.58,175.75 L120.79,173.91 L120.99,172.00 L121.20,170.00 L121.52,166.58 L121.85,162.81 L122.18,158.75 L122.50,154.47 L122.83,150.04 L123.15,145.51 L123.47,140.96 L123.79,136.44 L124.10,132.02 L124.41,127.76 L124.71,123.73 L125.00,120.00 L125.21,117.37 L125.42,114.81 L125.62,112.31 L125.81,109.88 L126.01,107.50 L126.20,105.18 L126.39,102.90 L126.59,100.66 L126.78,98.45 L126.98,96.28 L127.19,94.13 L127.40,92.00 L127.58,90.24 L127.77,88.50 L127.95,86.79 L128.14,85.11 L128.33,83.44 L128.53,81.81 L128.72,80.19 L128.92,78.61 L129.11,77.04 L129.31,75.50 L129.50,73.99 L129.70,72.50 L129.86,71.27 L130.02,70.06 L130.18,68.86 L130.35,67.69 L130.51,66.52 L130.67,65.38 L130.83,64.25 L131.00,63.15 L131.17,62.06 L131.34,60.99 L131.52,59.93 L131.70,58.90 L131.85,58.05 L131.99,57.20 L132.12,56.36 L132.25,55.53 L132.38,54.71 L132.52,53.91 L132.67,53.13 L132.83,52.37 L133.01,51.63 L133.21,50.92 L133.44,50.24 L133.70,49.60 L133.93,49.09 L134.17,48.57 L134.43,48.04 L134.70,47.51 L134.98,47.00 L135.27,46.51 L135.57,46.06 L135.87,45.67 L136.18,45.33 L136.49,45.06 L136.80,44.88 L137.10,44.80 L137.37,44.81 L137.65,44.90 L137.93,45.06 L138.22,45.28 L138.51,45.54 L138.80,45.84 L139.09,46.17 L139.38,46.52 L139.67,46.88 L139.95,47.23 L140.23,47.58 L140.50,47.90 L140.81,48.27 L141.11,48.66 L141.41,49.08 L141.71,49.50 L142.01,49.94 L142.30,50.39 L142.59,50.84 L142.87,51.29 L143.14,51.74 L143.40,52.17 L143.66,52.59 L143.90,53.00 L144.09,53.32 L144.26,53.62 L144.43,53.91 L144.58,54.19 L144.74,54.47 L144.88,54.75 L145.03,55.03 L145.19,55.33 L145.35,55.64 L145.52,55.96 L145.70,56.32 L145.90,56.70 L146.29,57.46 M242.63,57.46 L243.02,56.70 L243.22,56.32 L243.40,55.96 L243.57,55.64 L243.73,55.33 L243.89,55.03 L244.04,54.75 L244.18,54.47 L244.34,54.19 L244.49,53.91 L244.66,53.62 L244.83,53.32 L245.02,53.00 L245.26,52.59 L245.52,52.17 L245.78,51.74 L246.05,51.29 L246.33,50.84 L246.62,50.39 L246.91,49.94 L247.21,49.50 L247.51,49.08 L247.81,48.66 L248.11,48.27 L248.42,47.90 L248.69,47.58 L248.97,47.23 L249.25,46.88 L249.54,46.52 L249.83,46.17 L250.12,45.84 L250.41,45.54 L250.70,45.28 L250.99,45.06 L251.27,44.90 L251.55,44.81 L251.82,44.80 L252.12,44.88 L252.43,45.06 L252.74,45.33 L253.05,45.67 L253.35,46.06 L253.65,46.51 L253.94,47.00 L254.22,47.51 L254.49,48.04 L254.75,48.57 L254.99,49.09 L255.22,49.60 L255.48,50.24 L255.71,50.92 L255.91,51.63 L256.09,52.37 L256.25,53.13 L256.40,53.91 L256.54,54.71 L256.67,55.53 L256.80,56.36 L256.93,57.20 L257.07,58.05 L257.22,58.90 L257.40,59.93 L257.58,60.99 L257.75,62.06 L257.92,63.15 L258.09,64.25 L258.25,65.38 L258.41,66.52 L258.57,67.69 L258.74,68.86 L258.90,70.06 L259.06,71.27 L259.22,72.50 L259.42,73.99 L259.61,75.50 L259.81,77.04 L260.00,78.61 L260.20,80.19 L260.39,81.81 L260.59,83.44 L260.78,85.11 L260.97,86.79 L261.15,88.50 L261.34,90.24 L261.52,92.00 L261.73,94.13 L261.94,96.28 L262.14,98.45 L262.33,100.66 L262.53,102.90 L262.72,105.18 L262.91,107.50 L263.11,109.88 L263.30,112.31 L263.50,114.81 L263.71,117.37 L263.92,120.00 L264.21,123.73 L264.51,127.76 L264.82,132.02 L265.13,136.44 L265.45,140.96 L265.77,145.51 L266.09,150.04 L266.42,154.47 L266.74,158.75 L267.07,162.81 L267.40,166.58 L267.72,170.00 L267.93,172.00 L268.13,173.91 L268.34,175.75 L268.54,177.51 L268.75,179.21 L268.96,180.86 L269.16,182.46 L269.37,184.01 L269.58,185.54 L269.79,187.04 L270.01,188.52 L270.22,190.00 L270.39,191.15 L270.55,192.28 L270.72,193.37 L270.88,194.44 L271.04,195.48 L271.21,196.52 L271.38,197.54 L271.55,198.55 L271.73,199.55 L271.92,200.56 L272.11,201.58 L272.32,202.60 L272.52,203.61 L272.71,204.61 L272.90,205.62 L273.09,206.63 L273.28,207.63 L273.48,208.63 L273.70,209.62 L273.94,210.60 L274.21,211.57 L274.51,212.53 L274.84,213.47 L275.22,214.40 L275.63,215.34 L276.07,216.31 L276.54,217.30 L277.03,218.28 L277.55,219.26 L278.10,220.21 L278.67,221.13 L279.27,221.99 L279.89,222.79 L280.54,223.52 L281.22,224.16 L281.92,224.70 L282.54,225.07 L283.18,225.36 L283.86,225.60 L284.56,225.78 L285.27,225.92 L286.00,226.02 L286.74,226.10 L287.48,226.16" fill="none" stroke="#800080" stroke-width="0.42" stroke-linejoin="round"/>
<path d="M47.50,227.20 L51.15,227.18 L54.96,227.16 L58.89,227.15 L62.87,227.14 L66.85,227.13 L70.78,227.12 L74.59,227.11 L78.24,227.08 L81.66,227.05 L84.80,227.02 L87.60,226.96 L90.00,226.90 L90.94,226.87 L91.79,226.84 L92.58,226.82 L93.32,226.79 L94.01,226.77 L94.66,226.74 L95.29,226.70 L95.91,226.66 L96.53,226.61 L97.16,226.55 L97.82,226.48 L98.50,226.40 L99.22,226.32 L99.95,226.26 L100.69,226.21 L101.44,226.16 M146.29,57.46 L146.72,58.32 L147.18,59.25 L147.68,60.25 L148.19,61.29 L148.72,62.37 L149.25,63.46 L149.80,64.55 L150.34,65.62 L150.87,66.67 L151.40,67.67 L151.90,68.60 L152.31,69.36 L152.71,70.10 L153.10,70.82 L153.49,71.53 L153.88,72.22 L154.26,72.91 L154.66,73.59 L155.07,74.27 L155.49,74.95 L155.93,75.63 L156.40,76.31 L156.90,77.00 L157.50,77.80 L158.13,78.61 L158.79,79.43 L159.48,80.26 L160.18,81.08 L160.90,81.90 L161.64,82.71 L162.39,83.50 L163.14,84.27 L163.89,85.01 L164.65,85.72 L165.40,86.40 L166.08,86.99 L166.77,87.55 L167.46,88.10 L168.16,88.64 L168.86,89.15 L169.57,89.65 L170.28,90.13 L171.00,90.60 L171.72,91.05 L172.44,91.48 L173.17,91.90 L173.90,92.30 L174.59,92.66 L175.29,93.01 L175.99,93.33 L176.69,93.65 L177.40,93.94 L178.11,94.23 L178.82,94.50 L179.54,94.76 L180.25,95.01 L180.97,95.25 L181.68,95.48 L182.40,95.70 L183.11,95.91 L183.83,96.10 L184.57,96.29 L185.31,96.46 L186.06,96.63 L186.80,96.78 L187.53,96.93 L188.25,97.06 L188.94,97.19 L189.60,97.30 L190.22,97.40 L190.80,97.50 L191.16,97.55 L191.49,97.60 L191.81,97.64 L192.12,97.68 L192.42,97.71 L192.72,97.74 L193.00,97.76 L193.29,97.79 L193.57,97.81 L193.86,97.84 L194.15,97.87 L194.45,97.90 L194.77,97.87 L195.06,97.84 L195.35,97.81 L195.63,97.79 L195.92,97.76 L196.20,97.74 L196.50,97.71 L196.80,97.68 L197.11,97.64 L197.43,97.60 L197.76,97.55 L198.12,97.50 L198.70,97.40 L199.32,97.30 L199.98,97.19 L200.67,97.06 L201.39,96.93 L202.12,96.78 L202.86,96.63 L203.61,96.46 L204.35,96.29 L205.09,96.10 L205.81,95.91 L206.52,95.70 L207.24,95.48 L207.95,95.25 L208.67,95.01 L209.38,94.76 L210.10,94.50 L210.81,94.23 L211.52,93.94 L212.23,93.65 L212.93,93.33 L213.63,93.01 L214.33,92.66 L215.02,92.30 L215.75,91.90 L216.48,91.48 L217.20,91.05 L217.92,90.60 L218.64,90.13 L219.35,89.65 L220.06,89.15 L220.76,88.64 L221.46,88.10 L222.15,87.55 L222.84,86.99 L223.52,86.40 L224.27,85.72 L225.03,85.01 L225.78,84.27 L226.53,83.50 L227.28,82.71 L228.02,81.90 L228.74,81.08 L229.44,80.26 L230.13,79.43 L230.79,78.61 L231.42,77.80 L232.02,77.00 L232.52,76.31 L232.99,75.63 L233.43,74.95 L233.85,74.27 L234.26,73.59 L234.66,72.91 L235.04,72.22 L235.43,71.53 L235.82,70.82 L236.21,70.10 L236.61,69.36 L237.02,68.60 L237.52,67.67 L238.05,66.67 L238.58,65.62 L239.12,64.55 L239.67,63.46 L240.20,62.37 L240.73,61.29 L241.24,60.25 L241.74,59.25 L242.20,58.32 L242.63,57.46 M287.48,226.16 L288.23,226.21 L288.97,226.26 L289.70,226.32 L290.42,226.40 L291.10,226.48 L291.76,226.55 L292.39,226.61 L293.01,226.66 L293.63,226.70 L294.26,226.74 L294.91,226.77 L295.60,226.79 L296.34,226.82 L297.13,226.84 L297.98,226.87 L298.92,226.90 L301.32,226.96 L304.12,227.02 L307.26,227.05 L310.68,227.08 L314.33,227.11 L318.14,227.12 L322.07,227.13 L326.05,227.14 L330.03,227.15 L333.96,227.16 L337.77,227.18 L341.42,227.20" fill="none" stroke="#800080" stroke-width="0.2" stroke-linejoin="round"/>
<path d="M47.50,227.40 L51.15,227.38 L54.96,227.37 L58.89,227.36 L62.87,227.35 L66.85,227.33 L70.78,227.32 L74.59,227.31 L78.24,227.29 L81.66,227.27 L84.80,227.25 L87.60,227.23 L90.00,227.20 L90.94,227.19 L91.79,227.18 L92.58,227.17 L93.32,227.17 L94.00,227.16 L94.66,227.15 L95.29,227.14 L95.91,227.13 L96.53,227.11 L97.16,227.08 L97.81,227.04 L98.50,227.00 L99.22,226.96 L99.95,226.95 L100.68,226.95 L101.43,226.96 L102.17,226.96 L102.90,226.94 L103.63,226.90 L104.35,226.83 L105.05,226.71 L105.72,226.54 L106.38,226.31 L107.00,226.00 L107.68,225.56 L108.34,225.05 L108.98,224.45 L109.61,223.79 L110.21,223.08 L110.79,222.32 L111.34,221.52 L111.87,220.70 L112.37,219.85 L112.84,219.00 L113.29,218.14 L113.70,217.30 L114.10,216.38 L114.45,215.43 L114.76,214.45 L115.03,213.44 L115.27,212.42 L115.49,211.37 L115.69,210.31 L115.87,209.25 L116.05,208.18 L116.23,207.11 L116.41,206.05 L116.60,205.00 L116.80,203.94 L116.98,202.90 L117.15,201.86 L117.31,200.83 L117.47,199.79 L117.62,198.74 L117.77,197.68 L117.91,196.61 L118.05,195.50 L118.20,194.37 L118.35,193.21 L118.50,192.00 L118.70,190.40 L118.91,188.77 L119.12,187.12 L119.32,185.43 L119.53,183.70 L119.73,181.92 L119.93,180.10 L120.13,178.21 L120.33,176.27 L120.53,174.25 L120.72,172.17 L120.90,170.00 L121.17,166.49 L121.42,162.64 L121.67,158.53 L121.91,154.20 L122.14,149.74 L122.37,145.20 L122.59,140.64 L122.81,136.15 L123.03,131.77 L123.25,127.57 L123.47,123.63 L123.70,120.00 L123.86,117.61 L124.02,115.32 L124.18,113.11 L124.35,110.98 L124.51,108.91 L124.67,106.88 L124.83,104.89 L124.99,102.92 L125.14,100.96 L125.30,98.99 L125.45,97.01 L125.60,95.00 L125.74,93.08 L125.87,91.18 L126.00,89.29 L126.12,87.40 L126.24,85.53 L126.37,83.66 L126.49,81.80 L126.62,79.94 L126.75,78.08 L126.89,76.22 L127.04,74.36 L127.20,72.50 L127.37,70.62 L127.54,68.70 L127.72,66.76 L127.91,64.80 L128.10,62.84 L128.29,60.90 L128.49,58.99 L128.69,57.12 L128.89,55.31 L129.09,53.58 L129.30,51.94 L129.50,50.40 L129.63,49.41 L129.75,48.45 L129.87,47.53 L129.98,46.63 L130.09,45.76 L130.21,44.92 L130.34,44.10 L130.47,43.30 L130.62,42.52 L130.79,41.77 L130.98,41.03 L131.20,40.30 L131.39,39.70 L131.59,39.06 L131.80,38.41 L132.02,37.75 L132.24,37.11 L132.48,36.49 L132.73,35.93 L132.98,35.42 L133.25,34.98 L133.52,34.64 L133.81,34.41 L134.10,34.30 L134.39,34.32 L134.69,34.45 L135.01,34.67 L135.35,34.97 L135.69,35.34 L136.03,35.76 L136.38,36.22 L136.72,36.70 L137.06,37.20 L137.39,37.69 L137.70,38.16 L138.00,38.60 L138.32,39.09 L138.63,39.60 L138.92,40.12 L139.20,40.66 L139.48,41.21 L139.75,41.78 L140.02,42.35 L140.28,42.93 L140.55,43.52 L140.83,44.11 L141.11,44.71 L141.40,45.30 L141.73,45.97 L142.07,46.65 L142.41,47.33 L142.76,48.02 L143.10,48.72 L143.45,49.42 L143.81,50.13 L144.16,50.85 L144.52,51.58 L144.88,52.31 L145.24,53.05 L145.60,53.80 L146.01,54.64 L146.42,55.50 L146.83,56.37 L147.25,57.24 L147.66,58.13 L148.09,59.02 L148.51,59.92 L148.94,60.83 L149.37,61.74 L149.81,62.66 L150.25,63.58 L150.70,64.50 L151.18,65.52 L151.66,66.56 L152.14,67.62 L152.61,68.70 L153.09,69.78 L153.58,70.86 L154.08,71.94 L154.60,73.00 L155.14,74.04 L155.70,75.06 L156.28,76.05 L156.90,77.00 L157.52,77.88 L158.16,78.74 L158.82,79.59 L159.51,80.43 L160.21,81.24 L160.93,82.04 L161.66,82.82 L162.40,83.58 L163.15,84.32 L163.90,85.04 L164.65,85.73 L165.40,86.40 L166.08,86.99 L166.77,87.55 L167.46,88.10 L168.16,88.64 L168.86,89.15 L169.57,89.65 L170.28,90.13 L171.00,90.60 L171.72,91.05 L172.44,91.48 L173.17,91.90 L173.90,92.30 L174.59,92.66 L175.29,93.01 L175.99,93.33 L176.69,93.65 L177.40,93.94 L178.11,94.23 L178.82,94.50 L179.54,94.76 L180.25,95.01 L180.97,95.25 L181.68,95.48 L182.40,95.70 L183.11,95.91 L183.83,96.10 L184.57,96.29 L185.31,96.46 L186.06,96.63 L186.80,96.78 L187.53,96.93 L188.25,97.06 L188.94,97.19 L189.60,97.30 L190.22,97.40 L190.80,97.50 L191.16,97.55 L191.49,97.60 L191.81,97.64 L192.12,97.68 L192.42,97.71 L192.72,97.74 L193.00,97.76 L193.29,97.79 L193.57,97.81 L193.86,97.84 L194.15,97.87 L194.45,97.90 L194.77,97.87 L195.06,97.84 L195.35,97.81 L195.63,97.79 L195.92,97.76 L196.20,97.74 L196.50,97.71 L196.80,97.68 L197.11,97.64 L197.43,97.60 L197.76,97.55 L198.12,97.50 L198.70,97.40 L199.32,97.30 L199.98,97.19 L200.67,97.06 L201.39,96.93 L202.12,96.78 L202.86,96.63 L203.61,96.46 L204.35,96.29 L205.09,96.10 L205.81,95.91 L206.52,95.70 L207.24,95.48 L207.95,95.25 L208.67,95.01 L209.38,94.76 L210.10,94.50 L210.81,94.23 L211.52,93.94 L212.23,93.65 L212.93,93.33 L213.63,93.01 L214.33,92.66 L215.02,92.30 L215.75,91.90 L216.48,91.48 L217.20,91.05 L217.92,90.60 L218.64,90.13 L219.35,89.65 L220.06,89.15 L220.76,88.64 L221.46,88.10 L222.15,87.55 L222.84,86.99 L223.52,86.40 L224.27,85.73 L225.02,85.04 L225.77,84.32 L226.52,83.58 L227.26,82.82 L227.99,82.04 L228.71,81.24 L229.41,80.43 L230.10,79.59 L230.76,78.74 L231.40,77.88 L232.02,77.00 L232.64,76.05 L233.22,75.06 L233.78,74.04 L234.32,73.00 L234.84,71.94 L235.34,70.86 L235.83,69.78 L236.31,68.70 L236.78,67.62 L237.26,66.56 L237.74,65.52 L238.22,64.50 L238.67,63.58 L239.11,62.66 L239.55,61.74 L239.98,60.83 L240.41,59.92 L240.83,59.02 L241.26,58.13 L241.67,57.24 L242.09,56.37 L242.50,55.50 L242.91,54.64 L243.32,53.80 L243.68,53.05 L244.04,52.31 L244.40,51.58 L244.76,50.85 L245.11,50.13 L245.47,49.42 L245.82,48.72 L246.16,48.02 L246.51,47.33 L246.85,46.65 L247.19,45.97 L247.52,45.30 L247.81,44.71 L248.09,44.11 L248.37,43.52 L248.64,42.93 L248.90,42.35 L249.17,41.78 L249.44,41.21 L249.72,40.66 L250.00,40.12 L250.29,39.60 L250.60,39.09 L250.92,38.60 L251.22,38.16 L251.53,37.69 L251.86,37.20 L252.20,36.70 L252.54,36.22 L252.89,35.76 L253.23,35.34 L253.57,34.97 L253.91,34.67 L254.23,34.45 L254.53,34.32 L254.82,34.30 L255.11,34.41 L255.40,34.64 L255.67,34.98 L255.94,35.42 L256.19,35.93 L256.44,36.49 L256.68,37.11 L256.90,37.75 L257.12,38.41 L257.33,39.06 L257.53,39.70 L257.72,40.30 L257.94,41.03 L258.13,41.77 L258.30,42.52 L258.45,43.30 L258.58,44.10 L258.71,44.92 L258.83,45.76 L258.94,46.63 L259.05,47.53 L259.17,48.45 L259.29,49.41 L259.42,50.40 L259.62,51.94 L259.83,53.58 L260.03,55.31 L260.23,57.12 L260.43,58.99 L260.63,60.90 L260.82,62.84 L261.01,64.80 L261.20,66.76 L261.38,68.70 L261.55,70.62 L261.72,72.50 L261.88,74.36 L262.03,76.22 L262.17,78.08 L262.30,79.94 L262.43,81.80 L262.55,83.66 L262.68,85.53 L262.80,87.40 L262.92,89.29 L263.05,91.18 L263.18,93.08 L263.32,95.00 L263.47,97.01 L263.62,98.99 L263.78,100.96 L263.93,102.92 L264.09,104.89 L264.25,106.88 L264.41,108.91 L264.57,110.98 L264.74,113.11 L264.90,115.32 L265.06,117.61 L265.22,120.00 L265.45,123.63 L265.67,127.57 L265.89,131.77 L266.11,136.15 L266.33,140.64 L266.55,145.20 L266.78,149.74 L267.01,154.20 L267.25,158.53 L267.50,162.64 L267.75,166.49 L268.02,170.00 L268.20,172.17 L268.39,174.25 L268.59,176.27 L268.79,178.21 L268.99,180.10 L269.19,181.92 L269.39,183.70 L269.60,185.43 L269.80,187.12 L270.01,188.77 L270.22,190.40 L270.42,192.00 L270.57,193.21 L270.72,194.37 L270.87,195.50 L271.01,196.61 L271.15,197.68 L271.30,198.74 L271.45,199.79 L271.61,200.83 L271.77,201.86 L271.94,202.90 L272.12,203.94 L272.32,205.00 L272.51,206.05 L272.69,207.11 L272.87,208.18 L273.05,209.25 L273.23,210.31 L273.43,211.37 L273.65,212.42 L273.89,213.44 L274.16,214.45 L274.47,215.43 L274.82,216.38 L275.22,217.30 L275.63,218.14 L276.08,219.00 L276.55,219.85 L277.05,220.70 L277.58,221.52 L278.13,222.32 L278.71,223.08 L279.31,223.79 L279.94,224.45 L280.58,225.05 L281.24,225.56 L281.92,226.00 L282.54,226.31 L283.20,226.54 L283.87,226.71 L284.57,226.83 L285.29,226.90 L286.02,226.94 L286.75,226.96 L287.49,226.96 L288.24,226.95 L288.97,226.95 L289.70,226.96 L290.42,227.00 L291.11,227.04 L291.76,227.08 L292.39,227.11 L293.01,227.13 L293.63,227.14 L294.26,227.15 L294.92,227.16 L295.60,227.17 L296.34,227.17 L297.13,227.18 L297.98,227.19 L298.92,227.20 L301.32,227.23 L304.12,227.25 L307.26,227.27 L310.68,227.29 L314.33,227.31 L318.14,227.32 L322.07,227.33 L326.05,227.35 L330.03,227.36 L333.96,227.37 L337.77,227.38 L341.42,227.40" fill="none" stroke="#ff8080" stroke-width="0.42" stroke-linejoin="round"/>
<rect x="41.5" y="23.7" width="306.0" height="213.8" fill="none" stroke="#505050" stroke-width="0.5"/>
<path d="M47.46,237.5 v-3.3 M47.46,23.7 v3.3 M57.26,237.5 v-2.0 M57.26,23.7 v2.0 M67.06,237.5 v-2.0 M67.06,23.7 v2.0 M76.86,237.5 v-2.0 M76.86,23.7 v2.0 M86.66,237.5 v-2.0 M86.66,23.7 v2.0 M96.46,237.5 v-3.3 M96.46,23.7 v3.3 M106.26,237.5 v-2.0 M106.26,23.7 v2.0 M116.06,237.5 v-2.0 M116.06,23.7 v2.0 M125.86,237.5 v-2.0 M125.86,23.7 v2.0 M135.66,237.5 v-2.0 M135.66,23.7 v2.0 M145.46,237.5 v-3.3 M145.46,23.7 v3.3 M155.26,237.5 v-2.0 M155.26,23.7 v2.0 M165.06,237.5 v-2.0 M165.06,23.7 v2.0 M174.86,237.5 v-2.0 M174.86,23.7 v2.0 M184.66,237.5 v-2.0 M184.66,23.7 v2.0 M194.46,237.5 v-3.3 M194.46,23.7 v3.3 M204.26,237.5 v-2.0 M204.26,23.7 v2.0 M214.06,237.5 v-2.0 M214.06,23.7 v2.0 M223.86,237.5 v-2.0 M223.86,23.7 v2.0 M233.66,237.5 v-2.0 M233.66,23.7 v2.0 M243.46,237.5 v-3.3 M243.46,23.7 v3.3 M253.26,237.5 v-2.0 M253.26,23.7 v2.0 M263.06,237.5 v-2.0 M263.06,23.7 v2.0 M272.86,237.5 v-2.0 M272.86,23.7 v2.0 M282.66,237.5 v-2.0 M282.66,23.7 v2.0 M292.46,237.5 v-3.3 M292.46,23.7 v3.3 M302.26,237.5 v-2.0 M302.26,23.7 v2.0 M312.06,237.5 v-2.0 M312.06,23.7 v2.0 M321.86,237.5 v-2.0 M321.86,23.7 v2.0 M331.66,237.5 v-2.0 M331.66,23.7 v2.0 M341.46,237.5 v-3.3 M341.46,23.7 v3.3 M41.5,227.20 h3.3 M347.5,227.20 h-3.3 M41.5,214.28 h2.0 M347.5,214.28 h-2.0 M41.5,201.36 h2.0 M347.5,201.36 h-2.0 M41.5,188.44 h2.0 M347.5,188.44 h-2.0 M41.5,175.52 h2.0 M347.5,175.52 h-2.0 M41.5,162.60 h3.3 M347.5,162.60 h-3.3 M41.5,149.68 h2.0 M347.5,149.68 h-2.0 M41.5,136.76 h2.0 M347.5,136.76 h-2.0 M41.5,123.84 h2.0 M347.5,123.84 h-2.0 M41.5,110.92 h2.0 M347.5,110.92 h-2.0 M41.5,98.00 h3.3 M347.5,98.00 h-3.3 M41.5,85.08 h2.0 M347.5,85.08 h-2.0 M41.5,72.16 h2.0 M347.5,72.16 h-2.0 M41.5,59.24 h2.0 M347.5,59.24 h-2.0 M41.5,46.32 h2.0 M347.5,46.32 h-2.0 M41.5,33.40 h3.3 M347.5,33.40 h-3.3" fill="none" stroke="#505050" stroke-width="0.5"/>
<path d="M281.2,61.35 H310.3" stroke="#0000ff" stroke-width="1.5" fill="none" stroke-dasharray="3.9 1.64 3.9 1.64 3.9 1.64 3.9 1.64 6"/>
<path d="M281.2,78.90 H310.3" stroke="#ff0000" stroke-width="1.5" fill="none"/>
<path d="M281.2,96.45 H310.3" stroke="#ff8000" stroke-width="1.5" fill="none"/>
<path d="M281.2,114.00 H310.3" stroke="#00ff00" stroke-width="1.5" fill="none"/>
<path d="M281.2,131.55 H310.3" stroke="#800080" stroke-width="1.5" fill="none"/>
<path d="M281.2,149.10 H310.3" stroke="#ff8080" stroke-width="1.5" fill="none"/>
<g font-family="Liberation Sans, sans-serif" fill="#000" stroke="#000" stroke-width="0.2"><text transform="translate(47.36,252.30) scale(0.9,1)" font-size="13.2" text-anchor="middle">−1.5</text><text transform="translate(96.36,252.30) scale(0.9,1)" font-size="13.2" text-anchor="middle">−1.0</text><text transform="translate(145.36,252.30) scale(0.9,1)" font-size="13.2" text-anchor="middle">−0.5</text><text transform="translate(194.96,252.30) scale(0.9,1)" font-size="13.2" text-anchor="middle">0.0</text><text transform="translate(243.96,252.30) scale(0.9,1)" font-size="13.2" text-anchor="middle">0.5</text><text transform="translate(292.96,252.30) scale(0.9,1)" font-size="13.2" text-anchor="middle">1.0</text><text transform="translate(341.96,252.30) scale(0.9,1)" font-size="13.2" text-anchor="middle">1.5</text><text transform="translate(39.30,231.50) scale(0.9,1)" font-size="13.2" text-anchor="end">0.0</text><text transform="translate(39.30,166.90) scale(0.9,1)" font-size="13.2" text-anchor="end">0.5</text><text transform="translate(39.30,102.30) scale(0.9,1)" font-size="13.2" text-anchor="end">1.0</text><text transform="translate(39.30,37.70) scale(0.9,1)" font-size="13.2" text-anchor="end">1.5</text><text transform="translate(66.90,45.30) scale(0.985,1)" font-size="11.1" text-anchor="start">m = 1</text><text transform="translate(315.50,65.15) scale(0.84,1)" font-size="11.5" text-anchor="start">n = 1</text><text transform="translate(315.50,82.70) scale(0.84,1)" font-size="11.5" text-anchor="start">n = 2</text><text transform="translate(315.50,100.25) scale(0.84,1)" font-size="11.5" text-anchor="start">n = 3</text><text transform="translate(315.50,117.80) scale(0.84,1)" font-size="11.5" text-anchor="start">n = 4</text><text transform="translate(315.50,135.35) scale(0.84,1)" font-size="11.5" text-anchor="start">n = 5</text><text transform="translate(315.50,152.90) scale(0.84,1)" font-size="11.5" text-anchor="start">n = 6</text><text x="194.9" y="273.6" font-size="13.8" text-anchor="middle">x</text><text x="194.5" y="290.1" font-size="12.6" text-anchor="middle" stroke-width="0.05">(c)</text><path d="M7.9,137.6 C6.8,137.8 6.2,139.4 6.2,140.8 C6.2,142.6 7.2,143.8 8.5,143.7 C9.8,143.6 10.5,142.0 10.5,139.6 C10.3,142.6 11.2,145.6 13.2,145.6 C15.0,145.6 15.8,143.6 15.7,141.2 C15.6,139.0 14.9,137.3 13.5,137.2 C12.5,137.1 11.9,137.7 11.7,138.5" fill="none" stroke="#000" stroke-width="1.15" stroke-linecap="round" stroke-linejoin="round"/><text transform="translate(17.8,137.0) rotate(-90) scale(1.04,1)" font-size="10.5" stroke-width="0.1">BPS</text></g>
</svg>
</body></html>
